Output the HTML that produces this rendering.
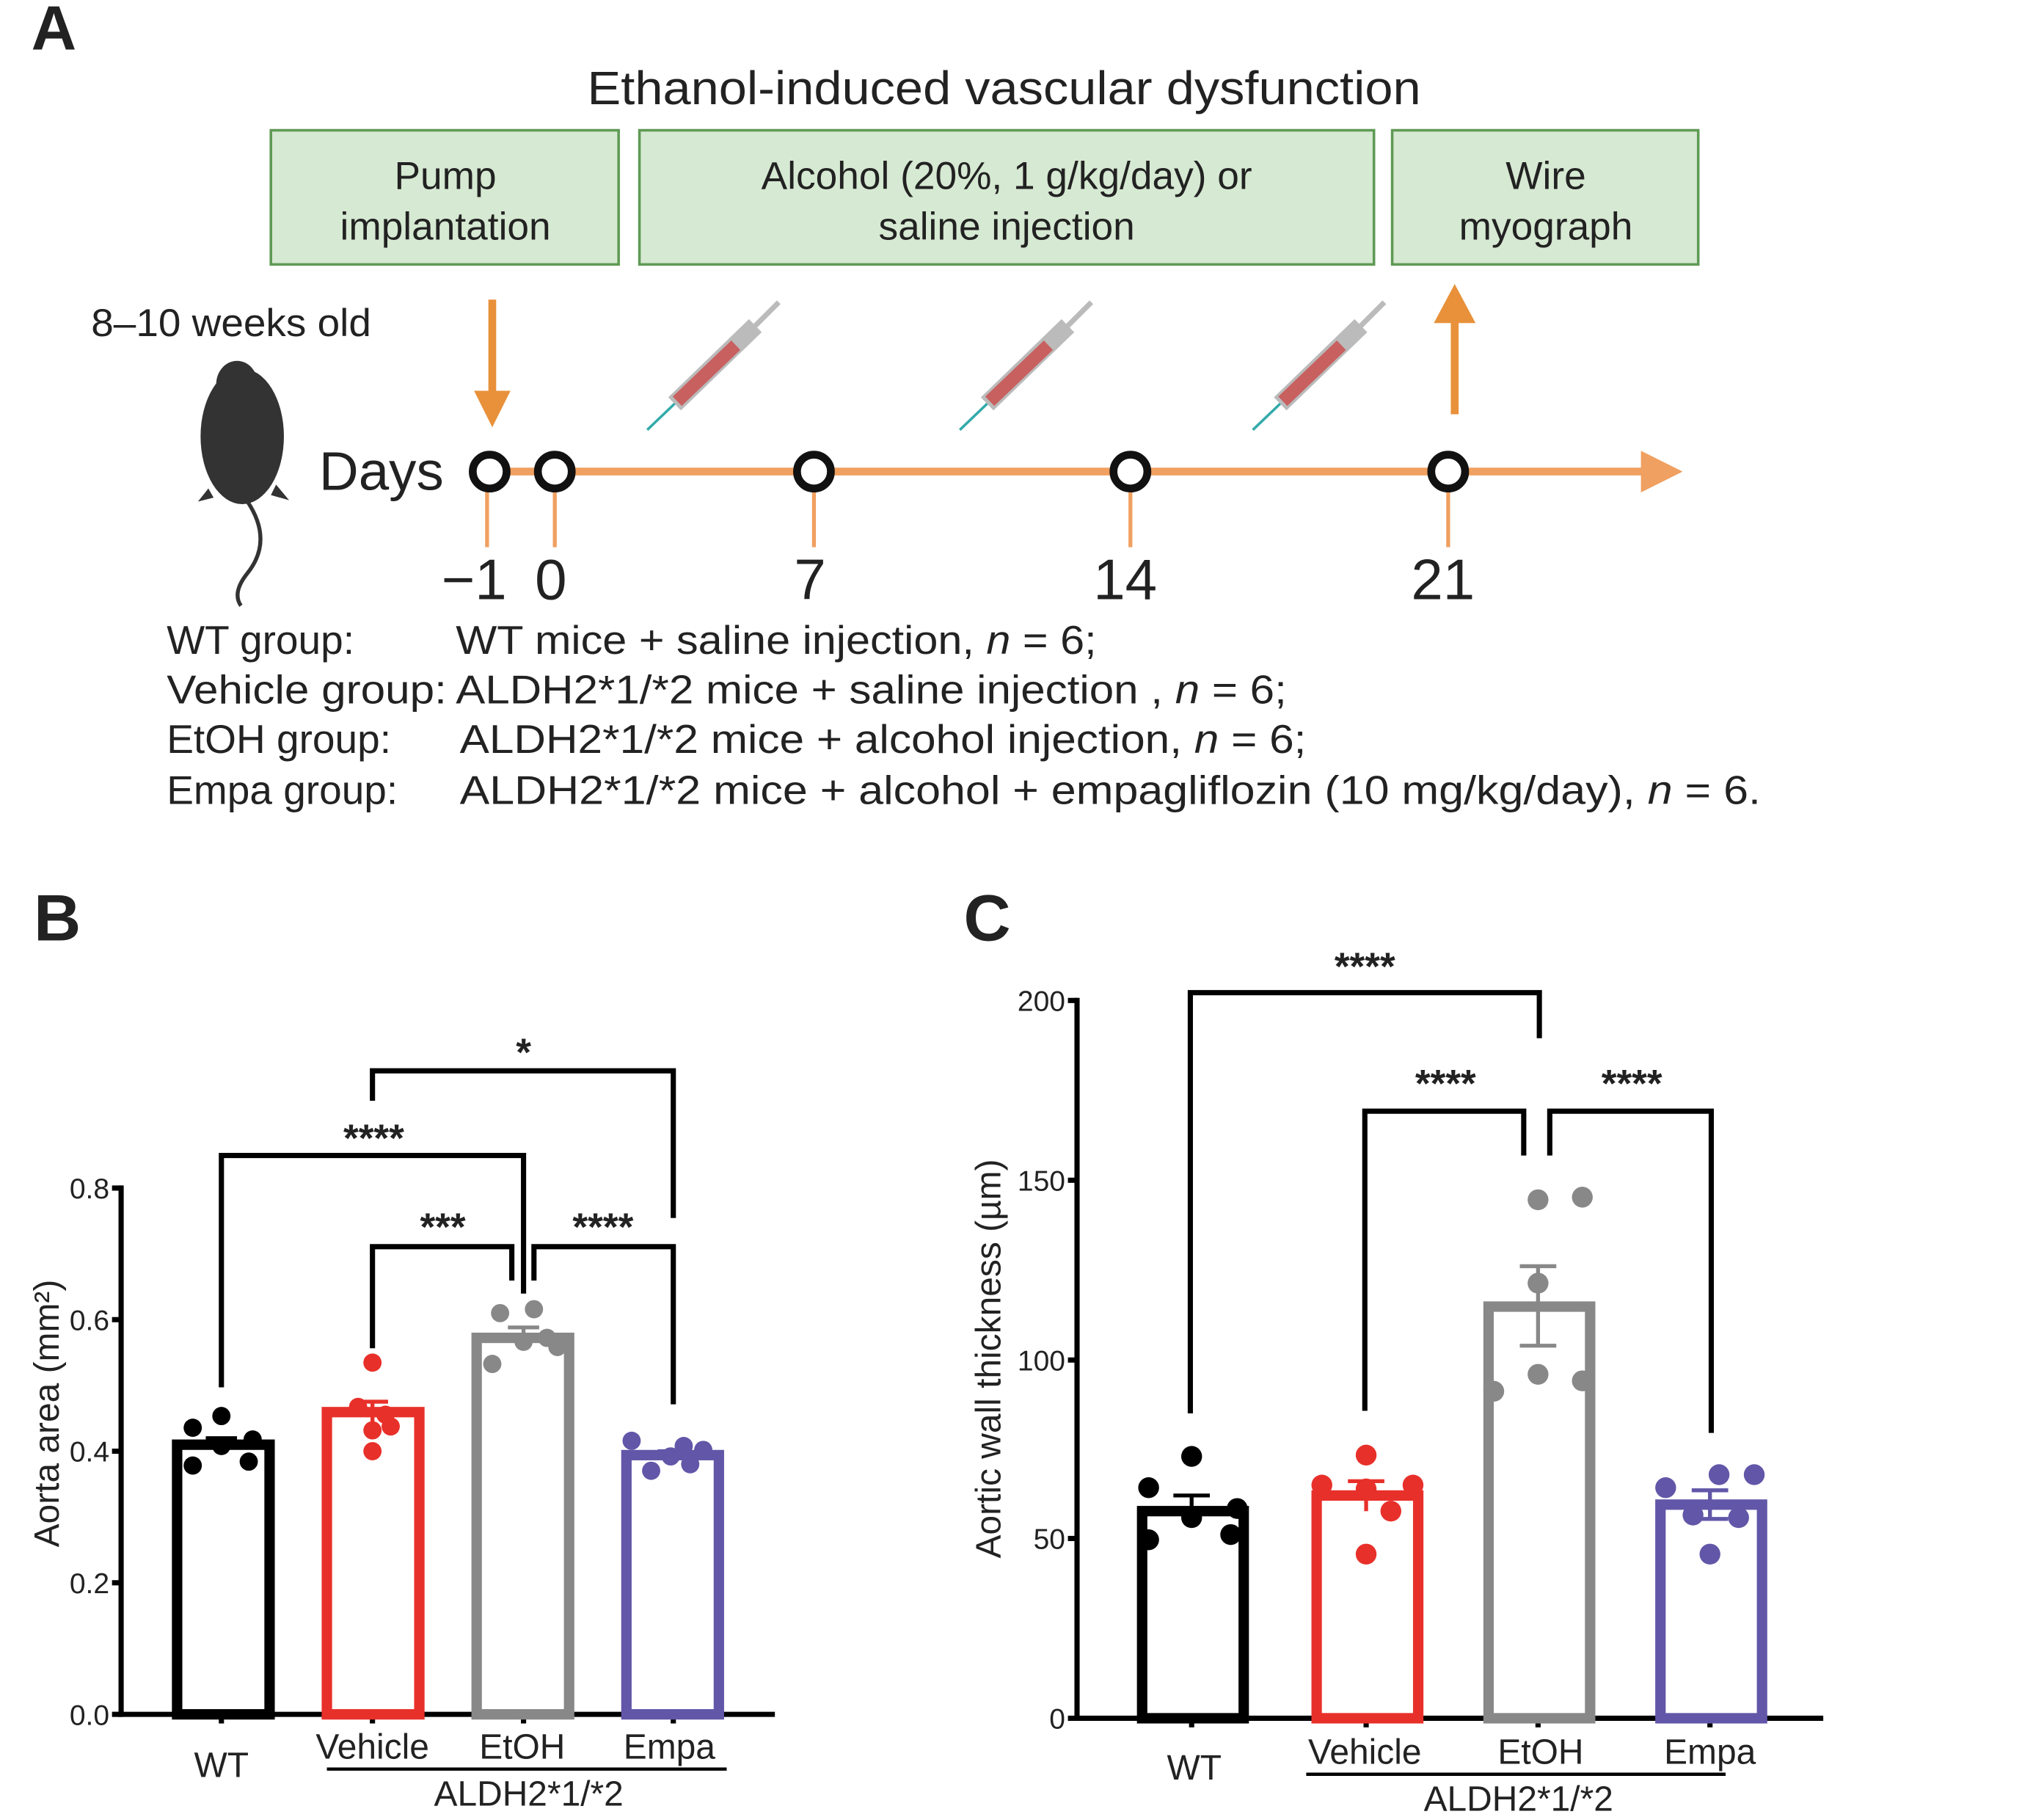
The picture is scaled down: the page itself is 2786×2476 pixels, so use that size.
<!DOCTYPE html>
<html><head><meta charset="utf-8"><style>
html,body{margin:0;padding:0;background:#fff}
svg{display:block}
text{font-family:"Liberation Sans",sans-serif;fill:#222}
</style></head><body>
<svg width="2786" height="2476" viewBox="0 0 1569.5 1394.8" preserveAspectRatio="none" xmlns="http://www.w3.org/2000/svg">
<rect width="1570" height="1395" fill="#fff"/>
<!-- Panel A -->
<text x="24" y="38" font-size="48" font-weight="bold" fill="#000">A</text>
<text x="771" y="80" font-size="36" text-anchor="middle" textLength="640" lengthAdjust="spacingAndGlyphs">Ethanol-induced vascular dysfunction</text>
<g fill="#d6e9d2" stroke="#5f9a55" stroke-width="2">
<rect x="208" y="100" width="267" height="103"/>
<rect x="491" y="100" width="564" height="103"/>
<rect x="1069" y="100" width="235" height="103"/>
</g>
<g font-size="30" text-anchor="middle">
<text x="342" y="145">Pump</text><text x="342" y="184">implantation</text>
<text x="773" y="145">Alcohol (20%, 1 g/kg/day) or</text><text x="773" y="184">saline injection</text>
<text x="1187" y="145">Wire</text><text x="1187" y="184">myograph</text>
</g>
<text x="70" y="258" font-size="30" textLength="215" lengthAdjust="spacingAndGlyphs">8–10 weeks old</text>
<!-- mouse -->
<g fill="#333">
<ellipse cx="186" cy="335" rx="32" ry="52"/>
<ellipse cx="182" cy="295" rx="16" ry="18"/>
<path d="M160 375 l-8 10 l12 -3z M212 372 l10 12 l-14 -4z"/>
<path d="M190 385 q20 30 0 55 q-12 15 -5 25" fill="none" stroke="#333" stroke-width="3"/>
</g>
<text x="245" y="376" font-size="42">Days</text>
<g stroke="#e8913a" stroke-width="6" fill="#e8913a">
<line x1="378" y1="230" x2="378" y2="305"/>
<path d="M364 300 L392 300 L378 328Z" stroke="none"/>
<line x1="1117" y1="318" x2="1117" y2="245"/>
<path d="M1101 248 L1133 248 L1117 218Z" stroke="none"/>
</g>
<line x1="376" y1="362" x2="1265" y2="362" stroke="#f0a060" stroke-width="6"/>
<path d="M1260 346 L1292 362 L1260 378Z" fill="#f0a060"/>
<g stroke="#f0a060" stroke-width="3">
<line x1="374" y1="375" x2="374" y2="420"/><line x1="426" y1="375" x2="426" y2="420"/>
<line x1="625" y1="375" x2="625" y2="420"/><line x1="868" y1="375" x2="868" y2="420"/>
<line x1="1112" y1="375" x2="1112" y2="420"/>
</g>
<g fill="#fff" stroke="#111" stroke-width="6">
<circle cx="376" cy="362" r="13"/><circle cx="426" cy="362" r="13"/>
<circle cx="625" cy="362" r="13"/><circle cx="868" cy="362" r="13"/><circle cx="1112" cy="362" r="13"/>
</g>
<g font-size="44" text-anchor="middle">
<text x="364" y="460">−1</text><text x="423" y="460">0</text><text x="622" y="460">7</text>
<text x="864" y="460">14</text><text x="1108" y="460">21</text>
</g>
<g id="syr">
<line x1="497" y1="330" x2="520" y2="308" stroke="#3aa" stroke-width="2"/>
<line x1="518" y1="310" x2="580" y2="250" stroke="#bbb" stroke-width="14"/>
<line x1="520" y1="308" x2="565" y2="265" stroke="#c86060" stroke-width="10"/>
<line x1="578" y1="252" x2="598" y2="232" stroke="#bbb" stroke-width="4"/>
</g>
<use href="#syr" x="240" y="0"/>
<use href="#syr" x="465" y="0"/>
<g font-size="31">
<text x="128" y="502">WT group:</text><text x="350" y="502" textLength="492" lengthAdjust="spacingAndGlyphs">WT mice + saline injection, <tspan font-style="italic">n</tspan> = 6;</text>
<text x="128" y="540" textLength="215" lengthAdjust="spacingAndGlyphs">Vehicle group:</text><text x="350" y="540" textLength="638" lengthAdjust="spacingAndGlyphs">ALDH2*1/*2 mice + saline injection , <tspan font-style="italic">n</tspan> = 6;</text>
<text x="128" y="578">EtOH group:</text><text x="353" y="578" textLength="650" lengthAdjust="spacingAndGlyphs">ALDH2*1/*2 mice + alcohol injection, <tspan font-style="italic">n</tspan> = 6;</text>
<text x="128" y="617">Empa group:</text><text x="353" y="617" textLength="999" lengthAdjust="spacingAndGlyphs">ALDH2*1/*2 mice + alcohol + empagliflozin (10 mg/kg/day), <tspan font-style="italic">n</tspan> = 6.</text>
</g>
<!-- Panel B -->
<text x="26" y="722" font-size="50" font-weight="bold" fill="#000">B</text>
<g stroke="#000" stroke-width="4" fill="none">
<line x1="93" y1="910" x2="93" y2="1318"/><line x1="91" y1="1316" x2="595" y2="1316"/>
<line x1="86" y1="912" x2="93" y2="912"/><line x1="86" y1="1013" x2="93" y2="1013"/>
<line x1="86" y1="1114" x2="93" y2="1114"/><line x1="86" y1="1215" x2="93" y2="1215"/>
<line x1="86" y1="1316" x2="93" y2="1316"/>
<line x1="170" y1="1316" x2="170" y2="1323"/><line x1="286" y1="1316" x2="286" y2="1323"/>
<line x1="402" y1="1316" x2="402" y2="1323"/><line x1="517" y1="1316" x2="517" y2="1323"/>
</g>
<g font-size="22" text-anchor="end">
<text x="84" y="920">0.8</text><text x="84" y="1021">0.6</text><text x="84" y="1122">0.4</text>
<text x="84" y="1223">0.2</text><text x="84" y="1324">0.0</text>
</g>
<text transform="translate(45,1085) rotate(-90)" font-size="27" text-anchor="middle">Aorta area (mm²)</text>
<g stroke-width="8" fill="#fff">
<rect x="136" y="1109" width="71" height="207" stroke="#000"/>
<rect x="251" y="1084" width="71" height="232" stroke="#e8302a"/>
<rect x="366" y="1027" width="71" height="289" stroke="#888"/>
<rect x="481" y="1117" width="71" height="199" stroke="#6256a8"/>
</g>
<g stroke-width="3">
<path d="M158 1104 H182 M170 1104 V1114" stroke="#000"/>
<path d="M274 1076 H298 M286 1076 V1092" stroke="#e8302a"/>
<path d="M390 1019 H414 M402 1019 V1035" stroke="#888"/>
<path d="M505 1114 H529" stroke="#6256a8"/>
</g>
<g fill="#000"><circle cx="148" cy="1096" r="7"/><circle cx="170" cy="1087" r="7"/><circle cx="170" cy="1110" r="7"/><circle cx="148" cy="1125" r="7"/><circle cx="191" cy="1122" r="7"/><circle cx="194" cy="1105" r="7"/></g>
<g fill="#e8302a"><circle cx="286" cy="1046" r="7"/><circle cx="275" cy="1080" r="7"/><circle cx="296" cy="1086" r="7"/><circle cx="286" cy="1098" r="7"/><circle cx="286" cy="1114" r="7"/><circle cx="300" cy="1095" r="7"/></g>
<g fill="#888"><circle cx="384" cy="1008" r="7"/><circle cx="410" cy="1005" r="7"/><circle cx="420" cy="1027" r="7"/><circle cx="402" cy="1030" r="7"/><circle cx="378" cy="1047" r="7"/><circle cx="428" cy="1034" r="7"/></g>
<g fill="#6256a8"><circle cx="485" cy="1106" r="7"/><circle cx="500" cy="1129" r="7"/><circle cx="515" cy="1118" r="7"/><circle cx="525" cy="1110" r="7"/><circle cx="540" cy="1113" r="7"/><circle cx="530" cy="1124" r="7"/></g>
<g stroke="#000" stroke-width="4" fill="none">
<path d="M170 1065 V887 H402 V993"/>
<path d="M286 1035 V957 H393 V983"/>
<path d="M410 983 V957 H517 V1078"/>
<path d="M286 845 V822 H517 V935"/>
</g>
<g font-size="30" font-weight="bold" text-anchor="middle" fill="#000">
<text x="287" y="884">****</text><text x="340" y="952">***</text><text x="463" y="952">****</text><text x="402" y="818">*</text>
</g>
<g font-size="27" text-anchor="middle">
<text x="170" y="1364">WT</text><text x="286" y="1350">Vehicle</text><text x="401" y="1350">EtOH</text><text x="514" y="1350">Empa</text>
<text x="406" y="1386">ALDH2*1/*2</text>
</g>
<line x1="251" y1="1358" x2="558" y2="1358" stroke="#000" stroke-width="2.5"/>
<!-- Panel C -->
<text x="740" y="722" font-size="50" font-weight="bold" fill="#000">C</text>
<g stroke="#000" stroke-width="4" fill="none">
<line x1="827" y1="766" x2="827" y2="1321"/><line x1="825" y1="1319" x2="1400" y2="1319"/>
<line x1="820" y1="768" x2="827" y2="768"/><line x1="820" y1="906" x2="827" y2="906"/>
<line x1="820" y1="1044" x2="827" y2="1044"/><line x1="820" y1="1181" x2="827" y2="1181"/>
<line x1="820" y1="1319" x2="827" y2="1319"/>
<line x1="915" y1="1319" x2="915" y2="1326"/><line x1="1049" y1="1319" x2="1049" y2="1326"/>
<line x1="1181" y1="1319" x2="1181" y2="1326"/><line x1="1313" y1="1319" x2="1313" y2="1326"/>
</g>
<g font-size="22" text-anchor="end">
<text x="818" y="776">200</text><text x="818" y="914">150</text><text x="818" y="1052">100</text>
<text x="818" y="1189">50</text><text x="818" y="1327">0</text>
</g>
<text transform="translate(768,1043) rotate(-90)" font-size="27" text-anchor="middle">Aortic wall thickness (µm)</text>
<g stroke-width="8" fill="#fff">
<rect x="877" y="1160" width="78" height="159" stroke="#000"/>
<rect x="1011" y="1148" width="78" height="171" stroke="#e8302a"/>
<rect x="1143" y="1003" width="78" height="316" stroke="#888"/>
<rect x="1275" y="1155" width="78" height="164" stroke="#6256a8"/>
</g>
<g stroke-width="3">
<path d="M901 1148 H929 M915 1148 V1160" stroke="#000"/>
<path d="M1035 1137 H1063 M1049 1137 V1160" stroke="#e8302a"/>
<path d="M1167 972 H1195 M1181 972 V1033 M1167 1033 H1195" stroke="#888"/>
<path d="M1299 1144 H1327 M1313 1144 V1166 M1299 1166 H1327" stroke="#6256a8"/>
</g>
<g fill="#000"><circle cx="915" cy="1118" r="8"/><circle cx="882" cy="1142" r="8"/><circle cx="950" cy="1158" r="8"/><circle cx="915" cy="1165" r="8"/><circle cx="882" cy="1182" r="8"/><circle cx="945" cy="1178" r="8"/></g>
<g fill="#e8302a"><circle cx="1049" cy="1117" r="8"/><circle cx="1015" cy="1140" r="8"/><circle cx="1085" cy="1140" r="8"/><circle cx="1049" cy="1143" r="8"/><circle cx="1068" cy="1160" r="8"/><circle cx="1049" cy="1193" r="8"/></g>
<g fill="#888"><circle cx="1181" cy="921" r="8"/><circle cx="1215" cy="919" r="8"/><circle cx="1181" cy="985" r="8"/><circle cx="1181" cy="1055" r="8"/><circle cx="1147" cy="1068" r="8"/><circle cx="1215" cy="1060" r="8"/></g>
<g fill="#6256a8"><circle cx="1279" cy="1142" r="8"/><circle cx="1347" cy="1132" r="8"/><circle cx="1320" cy="1132" r="8"/><circle cx="1300" cy="1163" r="8"/><circle cx="1335" cy="1165" r="8"/><circle cx="1313" cy="1193" r="8"/></g>
<g stroke="#000" stroke-width="4" fill="none">
<path d="M914 1085 V762 H1182 V797"/>
<path d="M1048 1083 V853 H1170 V887"/>
<path d="M1190 887 V853 H1314 V1100"/>
</g>
<g font-size="30" font-weight="bold" text-anchor="middle" fill="#000">
<text x="1048" y="752">****</text><text x="1110" y="842">****</text><text x="1253" y="842">****</text>
</g>
<g font-size="27" text-anchor="middle">
<text x="917" y="1366">WT</text><text x="1048" y="1354">Vehicle</text><text x="1183" y="1354">EtOH</text><text x="1313" y="1354">Empa</text>
<text x="1166" y="1390">ALDH2*1/*2</text>
</g>
<line x1="1003" y1="1362" x2="1325" y2="1362" stroke="#000" stroke-width="2.5"/>
</svg>
</body></html>
